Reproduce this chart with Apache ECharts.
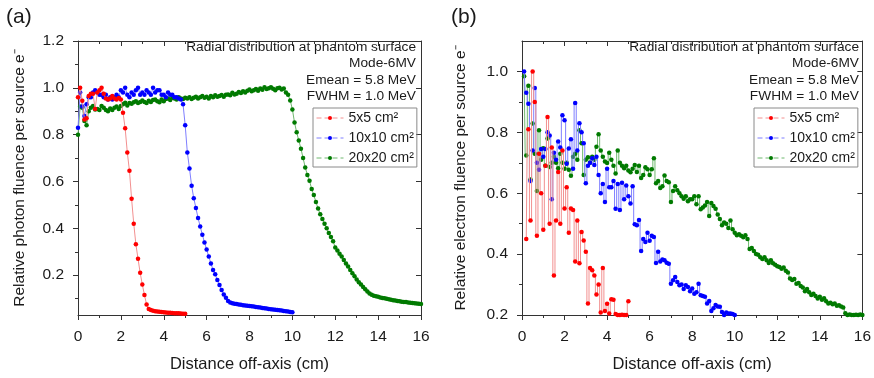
<!DOCTYPE html>
<html>
<head>
<meta charset="utf-8">
<script src="https://cdn.jsdelivr.net/npm/echarts@6/dist/echarts.min.js"></script>
<style>html,body{margin:0;padding:0;background:#fff}#c{width:874px;height:378px}</style>
</head>
<body>
<div id="c"></div>
<script>
// ---------- DATA ----------
const seriesNames = ['5x5 cm²', '10x10 cm²', '20x20 cm²'];
const xTicks = [0, 2, 4, 6, 8, 10, 12, 14, 16];
const yTicksA = [0.2, 0.4, 0.6, 0.8, 1.0, 1.2];
const yMinorA = [0.1, 0.3, 0.5, 0.7, 0.9, 1.1];
const yTicksB = [0.2, 0.4, 0.6, 0.8, 1.0];
const yMinorB = [0.3, 0.5, 0.7, 0.9];
const annotation = ['Radial distribution at phantom surface', 'Mode-6MV', 'Emean = 5.8 MeV', 'FWHM = 1.0 MeV'];

// Panel (a): photon fluence, bins every 0.1 cm starting at 0
const photonStart = 0.0, photonStep = 0.1;
const photon5 = [
  0.96,1.00,0.945,0.865,0.87,0.965,0.975,0.975,0.91,0.98,
  0.99,1.00,0.975,0.955,0.95,0.955,0.965,0.955,0.95,0.957,
  0.95,0.894,0.827,0.724,0.646,0.526,0.42,0.332,0.27,0.21,
  0.16,0.115,0.075,0.056,0.051,0.048,0.046,0.045,0.044,0.043,
  0.042,0.041,0.040,0.040,0.039,0.038,0.037,0.037,0.036,0.035,
  0.035];
const photon10 = [
  0.83,0.98,0.92,0.88,0.93,0.96,0.96,0.98,0.99,0.98,
  0.97,0.97,0.96,0.97,0.95,0.96,0.95,0.96,0.97,0.96,
  0.99,0.98,1.00,0.97,0.96,0.98,0.97,0.99,1.00,0.97,
  0.98,0.97,0.99,0.98,0.97,1.00,0.98,0.99,0.99,0.97,
  0.97,0.96,0.98,0.97,0.97,0.96,0.96,0.955,0.95,0.93,
  0.84,0.724,0.656,0.582,0.529,0.487,0.444,0.408,0.373,0.34,
  0.31,0.28,0.25,0.222,0.204,0.179,0.158,0.137,0.118,0.104,
  0.09,0.083,0.080,0.078,0.077,0.075,0.074,0.072,0.071,0.070,
  0.068,0.067,0.066,0.064,0.063,0.062,0.060,0.059,0.058,0.056,
  0.055,0.054,0.052,0.051,0.050,0.049,0.047,0.046,0.045,0.043,
  0.042];
const photon20 = [
  0.80,0.92,0.915,0.858,0.84,0.90,0.915,0.922,0.908,0.91,
  0.905,0.922,0.915,0.905,0.90,0.912,0.905,0.915,0.92,0.91,
  0.922,0.93,0.936,0.925,0.935,0.932,0.938,0.943,0.935,0.94,
  0.946,0.94,0.935,0.945,0.94,0.948,0.95,0.943,0.938,0.95,
  0.943,0.952,0.955,0.948,0.958,0.955,0.95,0.96,0.955,0.952,
  0.958,0.955,0.96,0.952,0.958,0.962,0.955,0.96,0.965,0.958,
  0.962,0.955,0.965,0.96,0.968,0.962,0.965,0.969,0.962,0.97,
  0.972,0.968,0.979,0.972,0.975,0.982,0.978,0.985,0.98,0.988,
  0.993,0.985,0.99,0.995,0.988,0.997,0.992,1.003,0.995,0.998,
  1.003,0.996,0.99,0.998,1.0,0.993,0.997,0.98,0.97,0.946,
  0.908,0.852,0.81,0.775,0.74,0.70,0.66,0.628,0.603,0.568,
  0.542,0.512,0.485,0.46,0.44,0.42,0.40,0.38,0.363,0.345,
  0.318,0.305,0.292,0.28,0.265,0.25,0.237,0.222,0.208,0.195,
  0.182,0.17,0.16,0.15,0.14,0.13,0.122,0.116,0.112,0.11,
  0.108,0.105,0.103,0.101,0.099,0.097,0.095,0.093,0.092,0.09,
  0.089,0.087,0.086,0.085,0.083,0.082,0.081,0.08,0.079,0.078,
  0.077];

// Panel (b): electron fluence, bins every 0.1 cm
const elecStep = 0.1;
const elec5Start = 0.2;
const elec5 = [
  0.45,0.81,0.51,1.00,0.90,0.46,0.73,0.60,0.48,0.69,
  0.85,0.50,0.75,0.33,0.51,0.67,0.50,0.74,0.55,0.62,
  0.47,0.55,0.545,0.376,0.51,0.37,0.473,0.445,0.408,0.238,
  0.354,0.347,0.33,0.267,0.30,0.208,0.354,0.213,0.237,0.205,
  0.252,0.25,0.203,0.20,0.20,0.201,0.20,0.20,0.245];
const elec10Start = 0.1;
const elec10 = [
  1.00,0.93,0.894,0.64,0.74,0.946,0.70,0.677,0.745,0.72,
  0.745,0.80,0.79,0.58,0.733,0.71,0.77,0.75,0.856,0.84,
  0.697,0.747,0.777,0.68,0.896,0.74,0.83,0.80,0.764,0.633,
  0.69,0.70,0.715,0.693,0.72,0.66,0.60,0.63,0.571,0.68,
  0.62,0.62,0.64,0.549,0.63,0.545,0.634,0.58,0.625,0.59,
  0.566,0.623,0.498,0.495,0.512,0.41,0.45,0.44,0.47,0.444,
  0.46,0.456,0.371,0.408,0.376,0.382,0.38,0.372,0.368,0.303,
  0.314,0.325,0.308,0.298,0.30,0.285,0.298,0.292,0.278,0.287,
  0.27,0.275,0.303,0.265,0.262,0.26,0.238,0.246,0.213,0.222,
  0.233,0.228,0.227,0.21,0.20,0.208,0.205,0.205,0.203,0.20];
const elec20Start = 0.1;
const elec20 = [
  0.984,0.724,0.953,0.645,0.829,0.73,0.607,0.807,0.71,0.748,
  0.69,0.78,0.686,0.70,0.72,0.70,0.682,0.73,0.70,0.68,
  0.70,0.677,0.657,0.72,0.73,0.71,0.807,0.764,0.66,0.71,
  0.718,0.70,0.72,0.71,0.753,0.794,0.74,0.72,0.704,0.699,
  0.733,0.71,0.69,0.665,0.74,0.70,0.69,0.682,0.69,0.675,
  0.669,0.68,0.693,0.67,0.69,0.65,0.66,0.685,0.679,0.66,
  0.679,0.715,0.633,0.64,0.617,0.623,0.658,0.64,0.636,0.571,
  0.607,0.623,0.61,0.60,0.59,0.582,0.59,0.574,0.58,0.58,
  0.59,0.564,0.59,0.547,0.553,0.56,0.571,0.525,0.568,0.558,
  0.549,0.53,0.515,0.495,0.504,0.50,0.486,0.51,0.482,0.47,
  0.462,0.465,0.46,0.455,0.462,0.45,0.417,0.42,0.41,0.40,
  0.398,0.39,0.384,0.39,0.38,0.371,0.38,0.37,0.365,0.36,
  0.358,0.352,0.356,0.345,0.34,0.32,0.315,0.318,0.303,0.305,
  0.295,0.29,0.278,0.285,0.275,0.266,0.27,0.262,0.254,0.26,
  0.25,0.255,0.245,0.238,0.24,0.235,0.238,0.23,0.232,0.228,
  0.225,0.206,0.20,0.202,0.20,0.20,0.201,0.20,0.202,0.20];

// ---------- CHART ----------
const FONT = '"Liberation Sans", Arial, sans-serif';
const TXT = '#1a1a1a';
const AX = '#333';
const dots = ['#ff0000', '#0000ff', '#007a00'];
const lines = ['#f29090', '#7f7fff', '#6fb86f'];

function pts(start, step, vals) {
  return vals.map((v, i) => [Math.round((start + i * step) * 100) / 100, v]);
}

function mk(idx, data, xi, yi, step) {
  return {
    type: 'line', name: seriesNames[idx], data: data,
    xAxisIndex: xi, yAxisIndex: yi, step: step || false,
    symbol: 'circle', symbolSize: 4.5, showSymbol: true,
    itemStyle: { color: dots[idx] },
    lineStyle: { color: lines[idx], width: 1 },
    clip: true, animation: false, z: 5 - idx
  };
}

function xPair(g) {
  const base = {
    type: 'value', gridIndex: g, min: 0, max: 16, interval: 2,
    splitLine: { show: false }, minorSplitLine: { show: false },
    axisLine: { show: true, onZero: false, lineStyle: { color: AX, width: 1 } }
  };
  return [
    Object.assign({}, base, {
      position: 'bottom',
      axisTick: { show: true, inside: false, length: 5, lineStyle: { color: AX } },
      minorTick: { show: true, splitNumber: 2, length: 3, lineStyle: { color: AX } },
      axisLabel: { show: true, fontSize: 15.5, color: TXT, margin: 14, fontFamily: FONT },
      name: 'Distance off-axis (cm)', nameLocation: 'middle', nameGap: 41,
      nameTextStyle: { fontSize: 16.5, color: TXT, fontFamily: FONT }
    }),
    Object.assign({}, base, {
      position: 'top',
      axisTick: { show: true, inside: true, length: 5, lineStyle: { color: AX } },
      minorTick: { show: true, splitNumber: 2, length: 3, lineStyle: { color: AX } },
      axisLabel: { show: false }
    })
  ];
}

function yQuad(g, min, max, major, minor, name, gap) {
  const base = {
    type: 'value', gridIndex: g, min: min, max: max,
    splitLine: { show: false }, minorSplitLine: { show: false }
  };
  return [
    Object.assign({}, base, {
      position: 'left',
      axisLine: { show: true, onZero: false, lineStyle: { color: AX, width: 1 } },
      axisTick: { show: true, inside: false, length: 5, customValues: major, lineStyle: { color: AX } },
      axisLabel: { show: true, customValues: major, formatter: v => v.toFixed(1), fontSize: 15.5, color: TXT, margin: 14, fontFamily: FONT },
      name: name, nameLocation: 'middle', nameRotate: 90, nameGap: gap,
      nameTextStyle: { fontSize: 15.5, color: TXT, fontFamily: FONT }
    }),
    Object.assign({}, base, {
      position: 'left',
      axisLine: { show: false },
      axisTick: { show: true, inside: false, length: 3, customValues: minor, lineStyle: { color: AX } },
      axisLabel: { show: false }
    }),
    Object.assign({}, base, {
      position: 'right',
      axisLine: { show: true, onZero: false, lineStyle: { color: AX, width: 1 } },
      axisTick: { show: true, inside: true, length: 5, customValues: major, lineStyle: { color: AX } },
      axisLabel: { show: false }
    }),
    Object.assign({}, base, {
      position: 'right',
      axisLine: { show: false },
      axisTick: { show: true, inside: true, length: 3, customValues: minor, lineStyle: { color: AX } },
      axisLabel: { show: false }
    })
  ];
}

function legendAt(left) {
  return {
    orient: 'vertical', left: left, top: 108,
    data: seriesNames,
    borderColor: '#8a8a8a', borderWidth: 1, borderRadius: 0,
    padding: [2, 3, 1, 3], itemGap: 4, itemWidth: 27, itemHeight: 5,
    lineStyle: { width: 1, type: [5, 3] },
    textStyle: { fontSize: 14, color: TXT, fontFamily: FONT, lineHeight: 16 },
    selectedMode: false
  };
}

function annot(right) {
  return {
    type: 'text', right: right, top: 39, z: 10,
    style: {
      text: annotation.join('\n'), textAlign: 'right',
      font: '13.7px ' + FONT, fill: TXT, lineHeight: 16.4
    }
  };
}

const chart = echarts.init(document.getElementById('c'), null, { renderer: 'canvas' });
chart.setOption({
  animation: false,
  backgroundColor: '#fff',
  grid: [
    { left: 78, top: 41, width: 343, height: 275.7 },
    { left: 522, top: 41, width: 342, height: 275.7 }
  ],
  xAxis: xPair(0).concat(xPair(1)),
  yAxis: yQuad(0, 0.03, 1.2, yTicksA, yMinorA, 'Relative photon fluence per source e⁻', 50)
    .concat(yQuad(1, 0.2, 1.1, yTicksB, yMinorB, 'Relative electron fluence per source e⁻', 53)),
  legend: [legendAt(313), legendAt(754)],
  graphic: [
    { type: 'text', left: 6, top: 7, style: { text: '(a)', font: '21px ' + FONT, fill: TXT } },
    { type: 'text', left: 451, top: 7, style: { text: '(b)', font: '21px ' + FONT, fill: TXT } },
    annot(874 - 416),
    annot(874 - 859)
  ],
  series: [
    mk(0, pts(photonStart, photonStep, photon5), 0, 0),
    mk(1, pts(photonStart, photonStep, photon10), 0, 0),
    mk(2, pts(photonStart, photonStep, photon20), 0, 0),
    mk(0, pts(elec5Start, elecStep, elec5), 2, 4, 'middle'),
    mk(1, pts(elec10Start, elecStep, elec10), 2, 4, 'middle'),
    mk(2, pts(elec20Start, elecStep, elec20), 2, 4, 'middle')
  ]
});
</script>
</body>
</html>
